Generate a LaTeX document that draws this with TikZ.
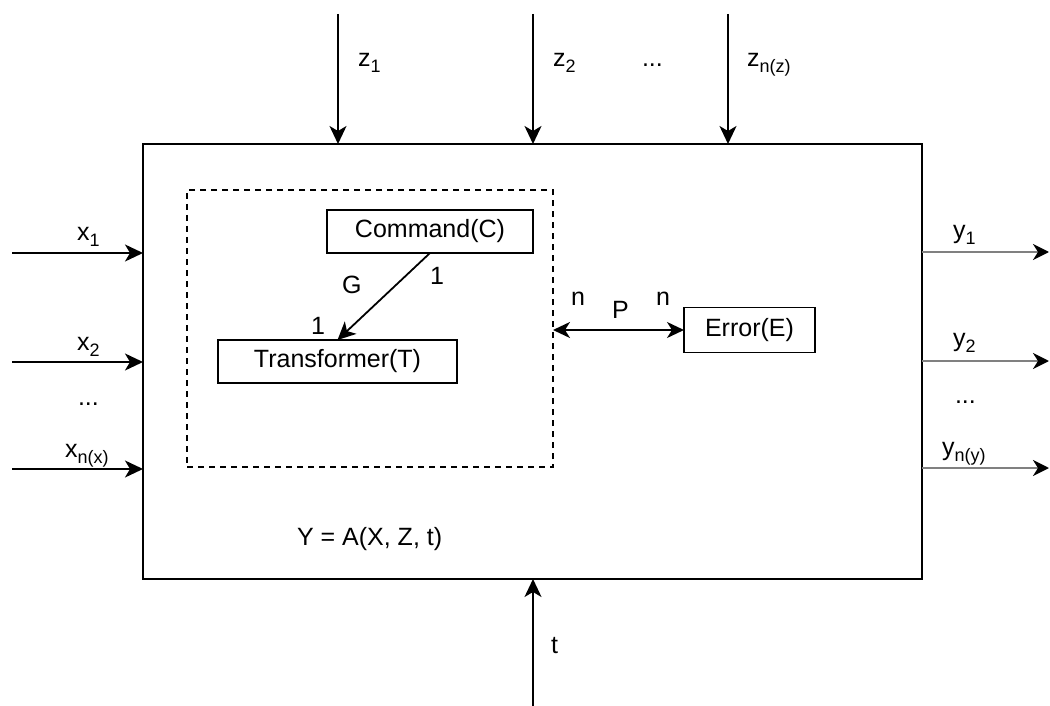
\documentclass[tikz,border=0pt]{standalone}
\usepackage{fontspec}
\setmainfont{Liberation Sans}
\usetikzlibrary{arrows.meta}
\newcommand\lsub[1]{\raisebox{-6pt}{\fontsize{18}{18}\selectfont #1}}
\begin{document}
\begin{tikzpicture}[x=1pt,y=-1pt, font=\fontsize{25}{30}\selectfont,
  tip/.style={-{Stealth[length=18pt,width=17pt,inset=5pt]}},
  arr/.style={line width=1.8pt, tip},
  garr/.style={line width=2.6pt, draw=black!50, -{Stealth[length=16pt,width=16pt,inset=5pt,fill=black,color=black]}},
  darr/.style={line width=1.8pt, {Stealth[length=17pt,width=16pt,inset=5pt]}-{Stealth[length=17pt,width=16pt,inset=5pt]}},
  box/.style={draw, line width=1.8pt, inner sep=0pt, outer sep=0pt},
  lbl/.style={anchor=base west, inner sep=0pt, outer sep=0pt}]
\useasboundingbox (0,0) rectangle (1050,706);

% main system box
\node[box, minimum width=779pt, minimum height=435pt, anchor=north west] (sys) at (143,144) {};
% dashed group
\node[box, line width=1.5pt, dash pattern=on 6pt off 5pt, minimum width=366pt, minimum height=277pt, anchor=north west] (grp) at (187,190) {};

% inner nodes
\node[box, minimum width=206pt, minimum height=43pt] (C) at (430,231.5) {Command(C)};
\node[box, minimum width=239pt, minimum height=43pt] (T) at (337.5,361.5) {Transformer(T)};
\node[box, minimum width=131pt, minimum height=45pt] (E) at (749.5,330) {Error(E)};

\draw[arr] (C.south) -- (T.north);
\node[lbl] (lG) at (342,293) {G};
\node[lbl] (l1a) at (430,284) {1};
\node[lbl] (l1b) at (311,334) {1};

\draw[darr] (E.west -| grp.east) -- (E.west);
\node[lbl] (ln1) at (571,305) {n};
\node[lbl] (lP) at (612,318) {P};
\node[lbl] (ln2) at (656,305) {n};

\node[lbl] (form) at (297,545) {Y = A(X, Z, t)};

% top inputs z
\coordinate (z1s) at (338,14);
\coordinate (z2s) at (533,14);
\coordinate (zns) at (728,14);
\draw[arr] (z1s) -- (z1s |- sys.north);
\draw[arr] (z2s) -- (z2s |- sys.north);
\draw[arr] (zns) -- (zns |- sys.north);
\node[lbl] (lz1) at (358,67) {z\lsub{1}};
\node[lbl] (lz2) at (553,67) {z\lsub{2}};
\node[lbl] (lzd) at (642,67) {...};
\node[lbl] (lzn) at (747,67) {z\lsub{n(z)}};

% left inputs x
\coordinate (x1s) at (12,253);
\coordinate (x2s) at (12,362);
\coordinate (xns) at (12,469);
\draw[arr] (x1s) -- (x1s -| sys.west);
\draw[arr] (x2s) -- (x2s -| sys.west);
\draw[arr] (xns) -- (xns -| sys.west);
\node[lbl] (lx1) at (77,240) {x\lsub{1}};
\node[lbl] (lx2) at (77,350) {x\lsub{2}};
\node[lbl] (lxd) at (78,405) {...};
\node[lbl] (lxn) at (65,457) {x\lsub{n(x)}};

% right outputs y
\coordinate (y1e) at (1049,252);
\coordinate (y2e) at (1049,361);
\coordinate (yne) at (1049,468);
\draw[garr] (y1e -| sys.east) -- (y1e);
\draw[garr] (y2e -| sys.east) -- (y2e);
\draw[garr] (yne -| sys.east) -- (yne);
\node[lbl] (ly1) at (953,238) {y\lsub{1}};
\node[lbl] (ly2) at (953,346) {y\lsub{2}};
\node[lbl] (lyd) at (955,403) {...};
\node[lbl] (lyn) at (942,455) {y\lsub{n(y)}};

% bottom input t
\coordinate (ts) at (533,706);
\draw[arr] (ts) -- (ts |- sys.south);
\node[lbl] (lt) at (551,653) {t};
\end{tikzpicture}
\end{document}
